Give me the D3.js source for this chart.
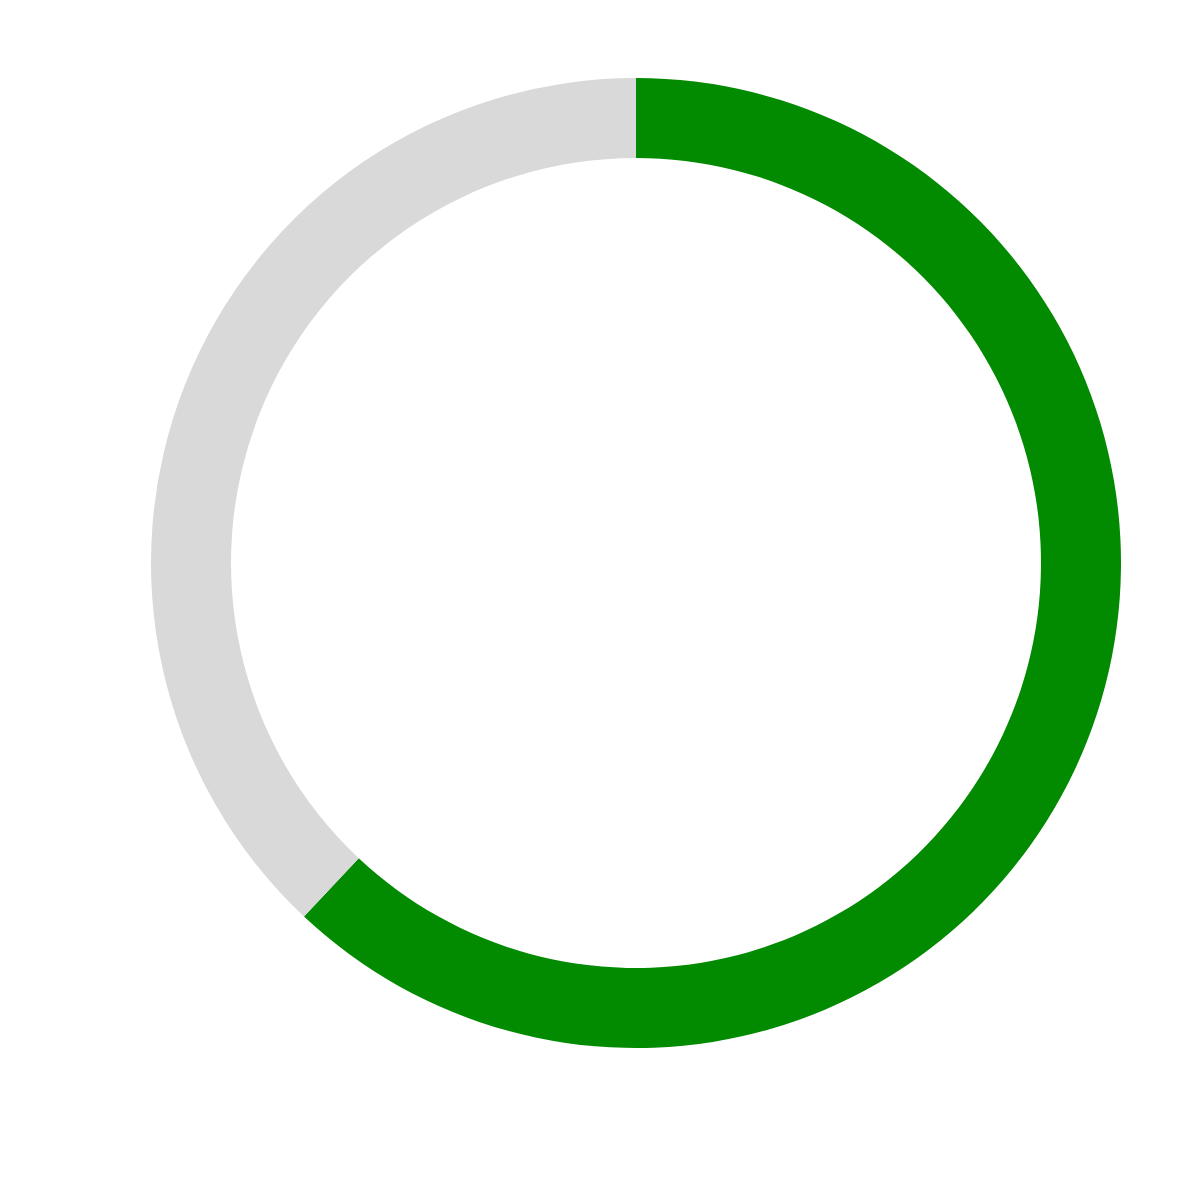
<!DOCTYPE html>
<html>
<head>
<meta charset="utf-8">
<script src="https://cdn.jsdelivr.net/npm/d3@7"></script>
<style>
html,body{margin:0;padding:0;background:#fff;}
svg{display:block;}
</style>
</head>
<body>
<svg id="chart" width="1200" height="1200"></svg>
<script>
const categories = ["Done", "Remaining"];
const values = [62, 38];
const colors = ["#028a00", "#d9d9d9"];

const svg = d3.select("#chart");
const cx = 636, cy = 563, outerR = 485, innerR = 405;

const pie = d3.pie().sort(null).value(d => d.value);
const arc = d3.arc().innerRadius(innerR).outerRadius(outerR);
const color = d3.scaleOrdinal().domain(categories).range(colors);

const data = categories.map((c, i) => ({ category: c, value: values[i] }));

svg.append("g")
  .attr("transform", `translate(${cx},${cy})`)
  .selectAll("path")
  .data(pie(data))
  .join("path")
  .attr("d", arc)
  .attr("fill", d => color(d.data.category));
</script>
</body>
</html>
